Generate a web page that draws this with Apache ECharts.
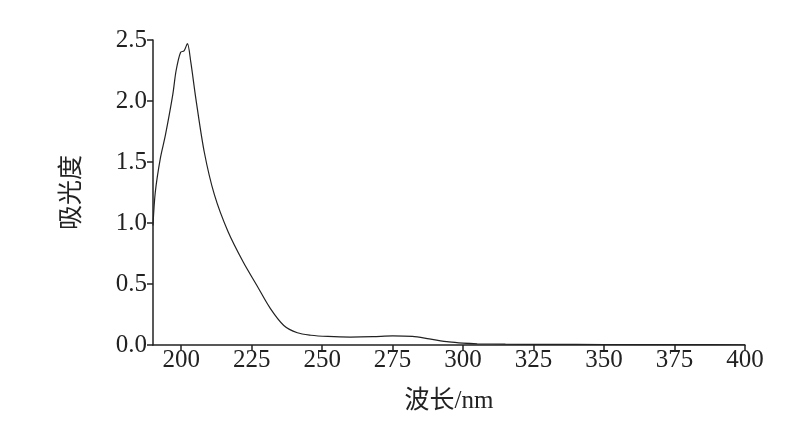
<!DOCTYPE html>
<html><head><meta charset="utf-8">
<script src="https://cdn.jsdelivr.net/npm/echarts@6/dist/echarts.min.js"></script>
<style>html,body{margin:0;padding:0;background:#fff}#c{width:809px;height:426px}</style>
</head><body><div id="c"></div>
<script>
const wavelengths = [190,190.8,192.6,194.4,197,198.2,199.8,201,202.2,203.4,205.2,208.2,211.8,216.6,222,226.8,231.6,236.4,241.2,246,252,260,268,275,282,288,295,300,305,315,330,350,375,400];
const absorbance = [0.98,1.25,1.53,1.72,2.05,2.25,2.40,2.41,2.47,2.32,2.02,1.58,1.23,0.93,0.68,0.49,0.30,0.16,0.10,0.08,0.07,0.065,0.068,0.075,0.07,0.05,0.025,0.015,0.01,0.007,0.005,0.004,0.003,0.002];
const xTicks = [200,225,250,275,300,325,350,375,400];
const font = 'Liberation Serif, Noto Sans CJK SC';
const chart = echarts.init(document.getElementById('c'));
chart.setOption({
  animation:false,
  grid:{left:153,right:64,top:40,bottom:81},
  xAxis:{type:'value',min:190,max:400,interval:25,
    name:'波长/nm',nameLocation:'middle',nameGap:44,
    nameTextStyle:{fontFamily:font,fontSize:25,color:'#222'},
    axisLine:{onZero:false,lineStyle:{color:'#222',width:1.5}},
    axisTick:{length:6,lineStyle:{color:'#222',width:1.5},customValues:xTicks},
    axisLabel:{fontFamily:font,fontSize:25,color:'#222',margin:3,customValues:xTicks},
    splitLine:{show:false}},
  yAxis:{type:'value',min:0,max:2.5,interval:0.5,
    name:'吸光度',nameLocation:'middle',nameGap:68,
    nameTextStyle:{fontFamily:font,fontSize:25,color:'#222'},
    axisLine:{show:true,lineStyle:{color:'#222',width:1.5}},
    axisTick:{show:true,length:6,lineStyle:{color:'#222',width:1.5}},
    axisLabel:{fontFamily:font,fontSize:25,color:'#222',margin:6,formatter:v=>v.toFixed(1)},
    splitLine:{show:false}},
  series:[{type:'line',data:wavelengths.map((w,i)=>[w,absorbance[i]]),smooth:0.3,showSymbol:false,
    lineStyle:{color:'#222',width:1.2}}]
});
</script></body></html>
